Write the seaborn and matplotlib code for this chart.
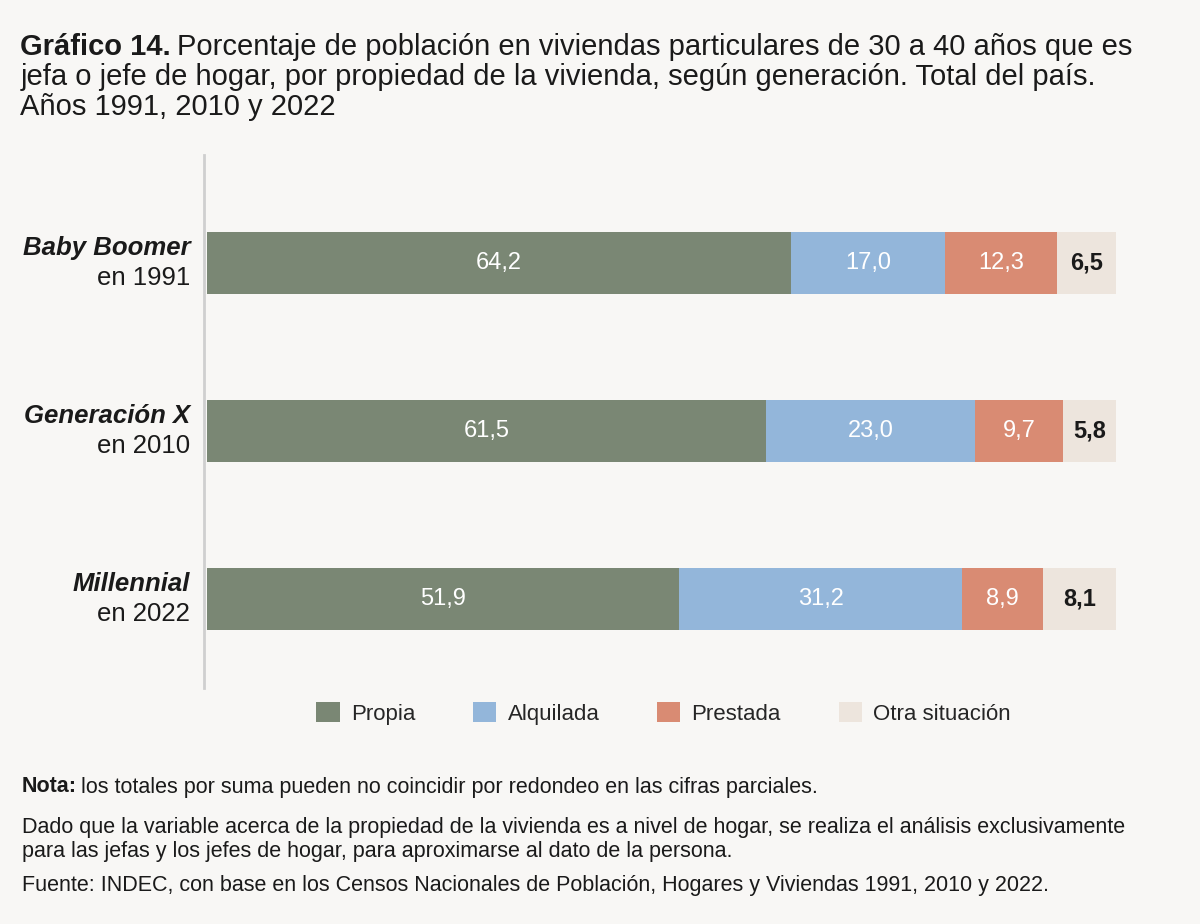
import numpy as np
import pandas as pd
import matplotlib.pyplot as plt
import seaborn as sns
from matplotlib.patches import Patch

# %% Data
generaciones = ["Baby Boomer", "Generación X", "Millennial"]
anios = ["en 1991", "en 2010", "en 2022"]
categorias = ["Propia", "Alquilada", "Prestada", "Otra situación"]
propia = [64.2, 61.5, 51.9]
alquilada = [17.0, 23.0, 31.2]
prestada = [12.3, 9.7, 8.9]
otra = [6.5, 5.8, 8.1]

colores = ["#7a8774", "#93b6da", "#d98b73", "#ede5dd"]
color_texto = ["white", "white", "white", "#1a1a1a"]
fondo = "#f8f7f5"
negro = "#1a1a1a"

df = pd.DataFrame({"gen": generaciones, "Propia": propia, "Alquilada": alquilada,
                   "Prestada": prestada, "Otra situación": otra})
cum = df[categorias].cumsum(axis=1)

# %% Figure
sns.set_theme(style="white")
plt.rcParams["font.family"] = ["Liberation Sans", "DejaVu Sans"]

fig = plt.figure(figsize=(12, 9.24), dpi=100, facecolor=fondo)
ax = fig.add_axes([0.1725, 0.2554, 0.7575, 0.5769])
ax.set_facecolor(fondo)

# stacked bars: draw cumulative totals from the back to the front
for cat, col in zip(categorias[::-1], colores[::-1]):
    sns.barplot(x=cum[cat], y=df["gen"], orient="h", color=col, width=0.37,
                saturation=1, ax=ax, linewidth=0)

# value labels centred in each segment
for i in range(len(df)):
    left = 0
    for cat, tc in zip(categorias, color_texto):
        v = df[cat].iloc[i]
        ax.text(left + v / 2, i, f"{v:.1f}".replace(".", ","), ha="center", va="center",
                color=tc, fontsize=17, fontweight="bold" if tc != "white" else "normal")
        left += v

ax.set_xlim(0, 100)
ax.set_ylim(2.53, -0.643)
ax.set_xticks([])
ax.set_yticks([])
ax.set_xlabel("")
ax.set_ylabel("")
for s in ["top", "right", "bottom"]:
    ax.spines[s].set_visible(False)
ax.spines["left"].set_color("#cfcfcf")
ax.spines["left"].set_linewidth(2)
ax.spines["left"].set_position(("outward", 2))

# category labels (two lines, mixed style)
for i, (g, a) in enumerate(zip(generaciones, anios)):
    ax.annotate(g, xy=(0, i), xycoords=("axes fraction", "data"), xytext=(-12, 11),
                textcoords="offset points", ha="right", va="center", fontsize=18.5,
                fontweight="bold", fontstyle="italic", color=negro)
    ax.annotate(a, xy=(0, i), xycoords=("axes fraction", "data"), xytext=(-12, -11),
                textcoords="offset points", ha="right", va="center", fontsize=18.5,
                color=negro)

# legend
handles = [Patch(facecolor=c, edgecolor="none") for c in colores]
fig.legend(handles, categorias, loc="center", bbox_to_anchor=(0.553, 0.228), ncol=4,
           frameon=False, fontsize=16, handlelength=1.05, handleheight=1.05,
           handletextpad=0.5, columnspacing=2.6)

# title: bold lead followed by regular text on the first line
def fy(px):
    return 1 - px / 924

t1 = fig.text(0.017, fy(47), "Gráfico 14.", fontsize=21, fontweight="bold", color=negro,
              va="center")
fig.canvas.draw()
bb = t1.get_window_extent().transformed(fig.transFigure.inverted())
fig.text(bb.x1 + 0.005, fy(47),
         "Porcentaje de población en viviendas particulares de 30 a 40 años que es",
         fontsize=21, color=negro, va="center")
fig.text(0.017, fy(77),
         "jefa o jefe de hogar, por propiedad de la vivienda, según generación. Total del país.",
         fontsize=21, color=negro, va="center")
fig.text(0.017, fy(107), "Años 1991, 2010 y 2022", fontsize=21, color=negro, va="center")

# notes
t2 = fig.text(0.018, fy(787), "Nota:", fontsize=15.5, fontweight="bold", color=negro,
              va="center")
fig.canvas.draw()
bb2 = t2.get_window_extent().transformed(fig.transFigure.inverted())
fig.text(bb2.x1 + 0.004, fy(787),
         "los totales por suma pueden no coincidir por redondeo en las cifras parciales.",
         fontsize=15.5, color=negro, va="center")
fig.text(0.018, fy(827),
         "Dado que la variable acerca de la propiedad de la vivienda es a nivel de hogar, se realiza el análisis exclusivamente",
         fontsize=15.5, color=negro, va="center")
fig.text(0.018, fy(852),
         "para las jefas y los jefes de hogar, para aproximarse al dato de la persona.",
         fontsize=15.5, color=negro, va="center")
fig.text(0.018, fy(886),
         "Fuente: INDEC, con base en los Censos Nacionales de Población, Hogares y Viviendas 1991, 2010 y 2022.",
         fontsize=15.5, color=negro, va="center")

fig.savefig("out.png", dpi=100, facecolor=fondo)
